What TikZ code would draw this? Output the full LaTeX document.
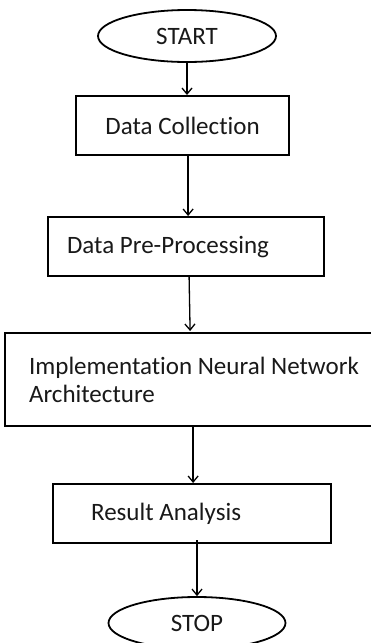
\documentclass[tikz,border=0pt]{standalone}
\usepackage{fontspec}
\setmainfont[Ligatures={NoCommon}]{Carlito}
\usetikzlibrary{arrows.meta,shapes.geometric}
\newcommand{\natspace}{\spaceskip=0pt\xspaceskip=0pt\relax}
\begin{document}
\begin{tikzpicture}[x=1pt,y=-1pt,
  every node/.style={font=\fontsize{25}{28}\selectfont, text=black!90},
  term/.style={draw, ellipse, line width=1.8pt, inner sep=0pt, minimum width=178pt, minimum height=52pt},
  proc/.style={draw, rectangle, line width=2.2pt, inner ysep=0pt, anchor=north west},
  flow/.style={line width=1.3pt, -{Straight Barb[length=6pt,width=10pt,line width=1.3pt]}}
]
\clip (0,0) rectangle (371,643);
\useasboundingbox (0,0) rectangle (371,643);
\fill[white] (0,0) rectangle (371,643);

\node[term] (start) at (187,36) {START};
\node[proc, minimum width=213pt, minimum height=59pt, inner xsep=0pt] (dc) at (75,95) {Data Collection};
\node[proc, minimum height=59pt, inner xsep=19pt, text width=238pt] (pre) at (47,216) {\natspace Data Pre-Processing};
\node[proc, minimum height=93pt, inner xsep=24pt, text width=340pt] (impl) at (4,332) {\natspace Implementation Neural Network\\Architecture};
\node[proc, minimum height=59pt, inner xsep=38pt, text width=202pt] (res) at (52,483) {\natspace Result Analysis};
\node[term, minimum width=177pt] (stop) at (197,623) {STOP};

\draw[flow] (start.south) -- (start.south |- dc.north);
\draw[flow] ([xshift=5.5pt]dc.south) -- ([xshift=5.5pt]dc.south |- pre.north);
\draw[flow] ([xshift=3pt]pre.south) -- ([xshift=-9pt,yshift=1pt]impl.north);
\draw[flow] ([xshift=-6pt]impl.south) -- ([xshift=-6pt]impl.south |- res.north);
\draw[flow] ([yshift=4pt]stop.north |- res.south) -- (stop.north);
\end{tikzpicture}
\end{document}
